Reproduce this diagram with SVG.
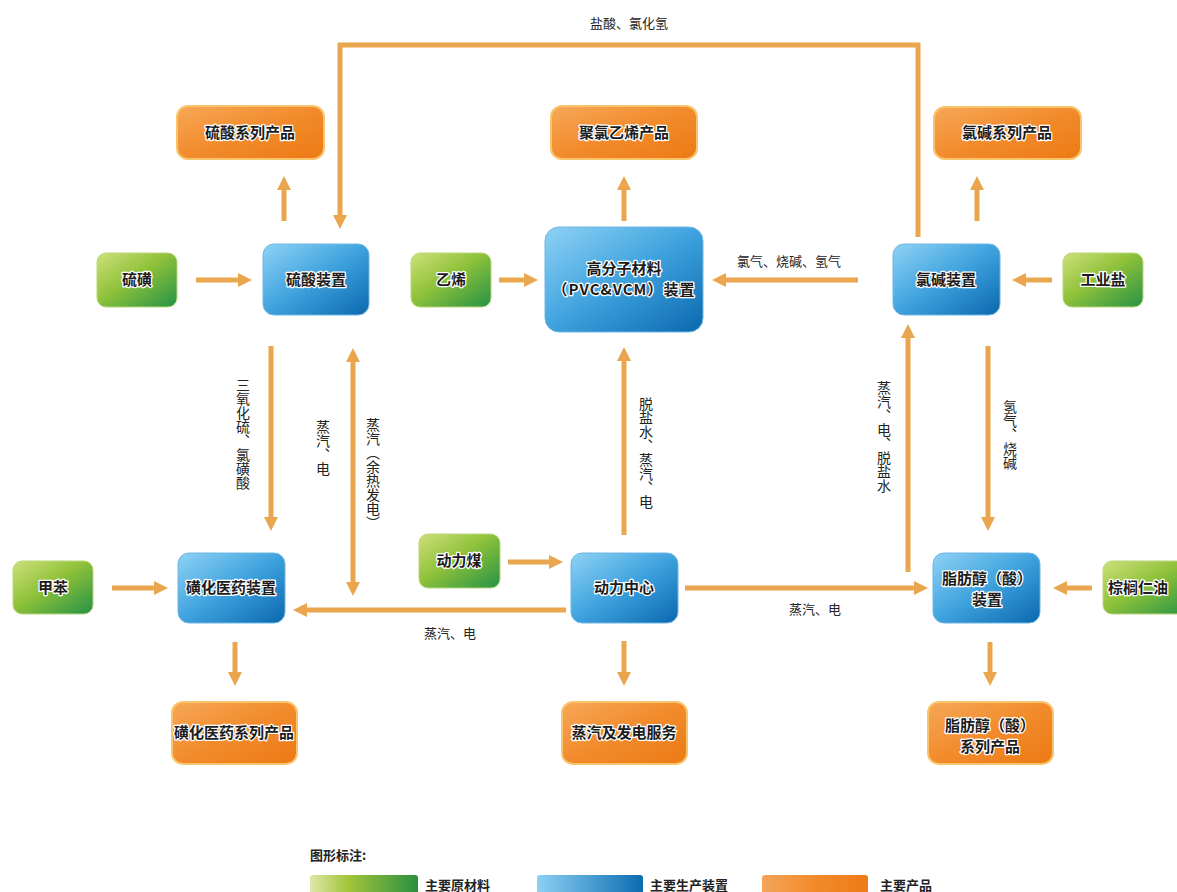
<svg xmlns="http://www.w3.org/2000/svg" width="1177" height="892" viewBox="0 0 1177 892">
<defs>
<linearGradient id="gGreen" x1="0" y1="0" x2="1" y2="1">
<stop offset="0" stop-color="#cfe07a"/><stop offset="0.45" stop-color="#8fc23a"/><stop offset="1" stop-color="#259246"/>
</linearGradient>
<linearGradient id="gBlue" x1="0" y1="0" x2="1" y2="1">
<stop offset="0" stop-color="#8fd2f5"/><stop offset="0.5" stop-color="#3ea2de"/><stop offset="1" stop-color="#0a68ae"/>
</linearGradient>
<linearGradient id="gOrange" x1="0" y1="0" x2="1" y2="1">
<stop offset="0" stop-color="#f6a858"/><stop offset="0.5" stop-color="#f28b2c"/><stop offset="1" stop-color="#ec7a14"/>
</linearGradient>
<linearGradient id="lGreen" x1="0" y1="0" x2="1" y2="0">
<stop offset="0" stop-color="#dfe6a8"/><stop offset="0.35" stop-color="#a3c53a"/><stop offset="1" stop-color="#2a8f40"/>
</linearGradient>
<linearGradient id="lBlue" x1="0" y1="0" x2="1" y2="0">
<stop offset="0" stop-color="#8dd0f4"/><stop offset="1" stop-color="#0b6cb1"/>
</linearGradient>
<linearGradient id="lOrange" x1="0" y1="0" x2="1" y2="0">
<stop offset="0" stop-color="#f4a55a"/><stop offset="0.5" stop-color="#f28a2a"/><stop offset="1" stop-color="#ee7b16"/>
</linearGradient>
<marker id="ah" viewBox="0 0 14 14" markerWidth="14" markerHeight="14" markerUnits="userSpaceOnUse" refX="2" refY="7" orient="auto-start-reverse">
<path d="M0,0 L14,7 L0,14 z" fill="#eaa64f"/>
</marker>
<style>
.raw{fill:url(#gGreen);stroke:#b9d77a;stroke-width:1}
.dev{fill:url(#gBlue);stroke:#6fb6e2;stroke-width:1}
.prod{fill:url(#gOrange);stroke:#f8c46c;stroke-width:2}
.nt{font-family:"Noto Sans CJK SC","Noto Sans",sans-serif;font-size:15px;font-weight:bold;fill:#1c1c1c;stroke:#ffffff;stroke-width:2.5px;stroke-linejoin:round;paint-order:stroke;text-anchor:middle}
.c{fill:none;stroke:#eaa64f;stroke-width:5}
.lb{font-family:"Noto Sans CJK SC","Noto Sans",sans-serif;font-size:13px;fill:#222}
.vl{font-family:"Noto Sans CJK SC","Noto Sans",sans-serif;font-size:14px;fill:#222;writing-mode:vertical-rl}
.lg{font-family:"Noto Sans CJK SC","Noto Sans",sans-serif;font-size:13px;font-weight:bold;fill:#222}
</style>
</defs>
<rect width="1177" height="892" fill="#ffffff"/>

<g id="connectors">
<polyline class="c" points="918,237 918,45 340,45 340,217" marker-end="url(#ah)"/>
<line class="c" x1="196" y1="280" x2="240" y2="280" marker-end="url(#ah)"/>
<line class="c" x1="499" y1="280" x2="526" y2="280" marker-end="url(#ah)"/>
<line class="c" x1="858" y1="280" x2="724" y2="280" marker-end="url(#ah)"/>
<line class="c" x1="1052" y1="280" x2="1024" y2="280" marker-end="url(#ah)"/>
<line class="c" x1="284" y1="221" x2="284" y2="188" marker-end="url(#ah)"/>
<line class="c" x1="624" y1="221" x2="624" y2="188" marker-end="url(#ah)"/>
<line class="c" x1="977" y1="221" x2="977" y2="188" marker-end="url(#ah)"/>
<line class="c" x1="271" y1="346" x2="271" y2="519" marker-end="url(#ah)"/>
<line class="c" x1="353" y1="360" x2="353" y2="584" marker-start="url(#ah)" marker-end="url(#ah)"/>
<line class="c" x1="566" y1="610" x2="305" y2="610" marker-end="url(#ah)"/>
<line class="c" x1="112" y1="588" x2="156" y2="588" marker-end="url(#ah)"/>
<line class="c" x1="235" y1="642" x2="235" y2="674" marker-end="url(#ah)"/>
<line class="c" x1="508" y1="562" x2="551" y2="562" marker-end="url(#ah)"/>
<line class="c" x1="624" y1="535" x2="624" y2="359" marker-end="url(#ah)"/>
<line class="c" x1="624" y1="641" x2="624" y2="674" marker-end="url(#ah)"/>
<line class="c" x1="685" y1="588" x2="916" y2="588" marker-end="url(#ah)"/>
<line class="c" x1="908" y1="572" x2="908" y2="336" marker-end="url(#ah)"/>
<line class="c" x1="988" y1="346" x2="988" y2="519" marker-end="url(#ah)"/>
<line class="c" x1="1092" y1="588" x2="1065" y2="588" marker-end="url(#ah)"/>
<line class="c" x1="990" y1="642" x2="990" y2="674" marker-end="url(#ah)"/>
<text class="lb" x="629" y="28" text-anchor="middle">盐酸、氯化氢</text>
<text class="lb" x="789" y="266" text-anchor="middle">氯气、烧碱、氢气</text>
<text class="lb" x="450" y="638" text-anchor="middle">蒸汽、电</text>
<text class="lb" x="815" y="614" text-anchor="middle">蒸汽、电</text>
<text class="vl" x="243" y="378">三氧化硫、氯磺酸</text>
<text class="vl" x="323" y="420">蒸汽、电</text>
<text class="vl" x="373" y="418">蒸汽（余热发电）</text>
<text class="vl" x="646" y="397">脱盐水、蒸汽、电</text>
<text class="vl" x="884" y="381">蒸汽、电、脱盐水</text>
<text class="vl" x="1010" y="400">氢气、烧碱</text>
</g>

<g id="n-lsxlcp"><rect class="prod" x="177" y="106" width="147" height="53" rx="11"/><text class="nt" x="250" y="138">硫酸系列产品</text></g>
<g id="n-jlyxcp"><rect class="prod" x="551" y="106" width="146" height="53" rx="11"/><text class="nt" x="624" y="138">聚氯乙烯产品</text></g>
<g id="n-ljxlcp"><rect class="prod" x="934" y="107" width="147" height="52" rx="11"/><text class="nt" x="1007" y="138">氯碱系列产品</text></g>

<g id="n-lh"><rect class="raw" x="97" y="253" width="80" height="54" rx="9"/><text class="nt" x="137" y="285">硫磺</text></g>
<g id="n-lszz"><rect class="dev" x="263" y="244" width="106" height="71" rx="11"/><text class="nt" x="316" y="285">硫酸装置</text></g>
<g id="n-yx"><rect class="raw" x="411" y="253" width="80" height="54" rx="9"/><text class="nt" x="451" y="285">乙烯</text></g>
<g id="n-gfz"><rect class="dev" x="545" y="227" width="158" height="105" rx="14"/><text class="nt" x="624" y="274">高分子材料</text><text class="nt" x="624" y="295" letter-spacing="1">（PVC&amp;VCM）装置</text></g>
<g id="n-ljzz"><rect class="dev" x="893" y="244" width="107" height="71" rx="11"/><text class="nt" x="946" y="285">氯碱装置</text></g>
<g id="n-gys"><rect class="raw" x="1063" y="253" width="80" height="54" rx="9"/><text class="nt" x="1103" y="285">工业盐</text></g>

<g id="n-jb"><rect class="raw" x="13" y="561" width="80" height="53" rx="9"/><text class="nt" x="53" y="593">甲苯</text></g>
<g id="n-hhyyzz"><rect class="dev" x="178" y="553" width="107" height="70" rx="11"/><text class="nt" x="231" y="593">磺化医药装置</text></g>
<g id="n-dlm"><rect class="raw" x="419" y="534" width="81" height="54" rx="9"/><text class="nt" x="459" y="566">动力煤</text></g>
<g id="n-dlzx"><rect class="dev" x="571" y="553" width="107" height="70" rx="11"/><text class="nt" x="624" y="593">动力中心</text></g>
<g id="n-zfczz"><rect class="dev" x="933" y="553" width="107" height="70" rx="11"/><text class="nt" x="987" y="584">脂肪醇（酸）</text><text class="nt" x="987" y="605">装置</text></g>
<g id="n-zlry"><rect class="raw" x="1103" y="561" width="90" height="53" rx="9"/><text class="nt" x="1138" y="593">棕榈仁油</text></g>

<g id="n-hhyyxlcp"><rect class="prod" x="172" y="702" width="125" height="62" rx="11"/><text class="nt" x="234" y="738">磺化医药系列产品</text></g>
<g id="n-zqfd"><rect class="prod" x="562" y="702" width="125" height="62" rx="11"/><text class="nt" x="624" y="738">蒸汽及发电服务</text></g>
<g id="n-zfcxlcp"><rect class="prod" x="928" y="702" width="125" height="62" rx="11"/><text class="nt" x="990" y="731">脂肪醇（酸）</text><text class="nt" x="990" y="752">系列产品</text></g>

<g id="legend">
<text class="lg" x="310" y="860">图形标注:</text>
<rect x="310" y="875" width="108" height="22" rx="3" fill="url(#lGreen)"/>
<text class="lg" x="425" y="890">主要原材料</text>
<rect x="537" y="875" width="106" height="22" rx="3" fill="url(#lBlue)"/>
<text class="lg" x="650" y="890">主要生产装置</text>
<rect x="762" y="875" width="106" height="22" rx="3" fill="url(#lOrange)"/>
<text class="lg" x="880" y="890">主要产品</text>
</g>
</svg>
